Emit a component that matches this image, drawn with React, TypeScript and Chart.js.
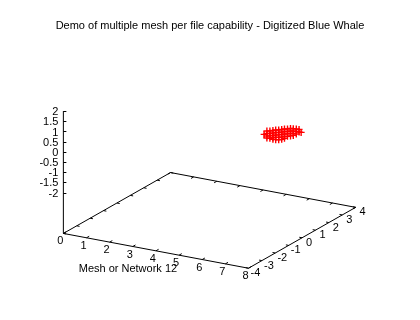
import React, { useEffect, useRef } from "react";
import { Chart, registerables } from "chart.js";

Chart.register(...registerables);

// ---- Text ----
const TITLE = "Demo of multiple mesh per file capability - Digitized Blue Whale";
const X_LABEL = "Mesh or Network 12";

// ---- Axes ----
const X_TICKS = [0, 1, 2, 3, 4, 5, 6, 7, 8];
const Y_TICKS = [-4, -3, -2, -1, 0, 1, 2, 3, 4];
const Z_TICKS = [-2, -1.5, -1, -0.5, 0, 0.5, 1, 1.5, 2];
const TICS_LEVEL = 0.5;

// ---- Whale mesh points (x, y, z) ----
const WHALE_X = [
  6.36,
  6.48, 6.48, 6.48, 6.48,
  6.61, 6.61, 6.61, 6.61,
  6.74, 6.74, 6.74, 6.74, 6.74,
  6.86, 6.86, 6.86, 6.86, 6.86,
  6.99, 6.99, 6.99, 6.99, 6.99,
  7.12, 7.12, 7.12, 7.12, 7.12,
  7.24, 7.24, 7.24, 7.24, 7.24,
  7.37, 7.37, 7.37, 7.37,
  7.5, 7.5, 7.5, 7.5,
  7.62, 7.62, 7.62, 7.62,
  7.75, 7.75, 7.75,
  7.87, 7.87,
  7.96,
];
const WHALE_Y = [
  0,
  0, 0, 0, 0,
  0, 0, 0, 0,
  0, 0, 0, 0, 0,
  0, 0, 0, 0, 0,
  0, 0, 0, 0, 0,
  0, 0, 0, 0, 0,
  0, 0, 0, 0, 0,
  0, 0, 0, 0,
  0, 0, 0, 0,
  0, 0, 0, 0,
  0, 0, 0,
  0, 0,
  0,
];
const WHALE_Z = [
  0.72,
  0.91, 0.79, 0.67, 0.57,
  0.94, 0.82, 0.7, 0.58,
  0.99, 0.87, 0.75, 0.64, 0.56,
  1.04, 0.92, 0.8, 0.69, 0.57,
  1.07, 0.95, 0.83, 0.71, 0.59,
  1.12, 1.0, 0.88, 0.76, 0.64,
  1.17, 1.05, 0.93, 0.81, 0.72,
  1.2, 1.08, 0.96, 0.84,
  1.25, 1.13, 1.01, 0.89,
  1.27, 1.16, 1.04, 0.94,
  1.28, 1.16, 1.04,
  1.28, 1.16,
  1.16,
];

// ---- View (projection of the 3D box onto the canvas) ----
const ORIGIN = { x: 59.5, y: 236 };
const UX = { x: 23.75, y: 4.5 };
const UY = { x: 13.75, y: -7.875 };
const UZ = 21.1;
const FONT = "11px 'Liberation Sans', Arial, sans-serif";

const xMin = Math.min(...X_TICKS);
const xMax = Math.max(...X_TICKS);
const yMin = Math.min(...Y_TICKS);
const yMax = Math.max(...Y_TICKS);
const zMin = Math.min(...Z_TICKS);
const zMax = Math.max(...Z_TICKS);
const zBase = zMin - TICS_LEVEL * (zMax - zMin);

function project(x: number, y: number, z: number) {
  return {
    x: ORIGIN.x + (x - xMin) * UX.x + (y - yMin) * UY.x,
    y: ORIGIN.y + (x - xMin) * UX.y + (y - yMin) * UY.y - (z - zBase) * UZ,
  };
}

const boxData = [
  project(xMin, yMin, zBase),
  project(xMax, yMin, zBase),
  project(xMax, yMax, zBase),
  project(xMin, yMax, zBase),
  project(xMin, yMin, zBase),
];
const zAxisData = [project(xMin, yMin, zBase), project(xMin, yMin, zMax)];
const whaleData = WHALE_X.map((x, i) => project(x, WHALE_Y[i], WHALE_Z[i]));

const decorPlugin = {
  id: "decor3d",
  afterDatasetsDraw(chart: any) {
    const ctx = chart.ctx as CanvasRenderingContext2D;
    const sx = chart.scales.x;
    const sy = chart.scales.y;
    const px = (p: { x: number; y: number }) => ({
      x: sx.getPixelForValue(p.x),
      y: sy.getPixelForValue(p.y),
    });
    const seg = (a: any, b: any) => {
      const A = px(a);
      const B = px(b);
      ctx.beginPath();
      ctx.moveTo(A.x, A.y);
      ctx.lineTo(B.x, B.y);
      ctx.stroke();
    };
    ctx.save();
    ctx.strokeStyle = "#000";
    ctx.lineWidth = 1;
    // x ticks (front and back edges)
    X_TICKS.forEach((t) => {
      seg(project(t, yMin, zBase), project(t, yMin + 0.2, zBase));
      seg(project(t, yMax, zBase), project(t, yMax - 0.2, zBase));
    });
    // y ticks (right and left edges)
    Y_TICKS.forEach((t) => {
      seg(project(xMax, t, zBase), project(xMax - 0.12, t, zBase));
      seg(project(xMin, t, zBase), project(xMin + 0.12, t, zBase));
    });
    // z ticks
    Z_TICKS.forEach((t) => {
      const p = px(project(xMin, yMin, t));
      ctx.beginPath();
      ctx.moveTo(p.x, Math.round(p.y) + 0.5);
      ctx.lineTo(p.x + 3, Math.round(p.y) + 0.5);
      ctx.stroke();
    });

    ctx.fillStyle = "#000";
    ctx.font = FONT;
    // z labels
    ctx.textAlign = "right";
    ctx.textBaseline = "middle";
    Z_TICKS.forEach((t) => {
      const p = px(project(xMin, yMin, t));
      ctx.fillText(String(t), p.x - 5, p.y + 1);
    });
    // x labels
    ctx.textAlign = "center";
    X_TICKS.forEach((t) => {
      const p = px(project(t, yMin, zBase));
      ctx.fillText(String(t), p.x - 3, p.y + 8);
    });
    // y labels
    Y_TICKS.forEach((t) => {
      const p = px(project(xMax, t, zBase));
      ctx.fillText(String(t), p.x + 7, p.y + 5);
    });
    // x axis label
    const mid = px(project((xMin + xMax) / 2, yMin, zBase));
    ctx.fillText(X_LABEL, mid.x - 28, mid.y + 18);
    // title
    ctx.fillText(TITLE, chart.width / 2, 26);
    ctx.restore();
  },
};

export default function App() {
  const canvasRef = useRef<HTMLCanvasElement | null>(null);

  useEffect(() => {
    if (!canvasRef.current) return;
    const chart = new Chart(canvasRef.current, {
      type: "scatter",
      data: {
        datasets: [
          {
            label: "box",
            data: boxData,
            showLine: true,
            borderColor: "#000",
            borderWidth: 1,
            pointRadius: 0,
            fill: false,
          },
          {
            label: "zaxis",
            data: zAxisData,
            showLine: true,
            borderColor: "#000",
            borderWidth: 1,
            pointRadius: 0,
            fill: false,
          },
          {
            label: "Blue Whale",
            data: whaleData,
            showLine: false,
            pointStyle: "cross",
            pointRadius: 3.5,
            borderColor: "#ff0000",
            backgroundColor: "#ff0000",
            borderWidth: 1.4,
          },
        ],
      },
      options: {
        animation: false,
        responsive: false,
        devicePixelRatio: 1,
        layout: { padding: 0 },
        plugins: {
          legend: { display: false },
          title: { display: false },
          tooltip: { enabled: false },
        },
        scales: {
          x: { type: "linear", min: 0, max: 420, display: false },
          y: { type: "linear", min: 0, max: 320, reverse: true, display: false },
        },
      },
      plugins: [decorPlugin],
    });
    return () => chart.destroy();
  }, []);

  return (
    <div style={{ position: "absolute", left: 0, top: 0, width: 420, height: 320, background: "#fff" }}>
      <canvas ref={canvasRef} width={420} height={320} />
    </div>
  );
}
